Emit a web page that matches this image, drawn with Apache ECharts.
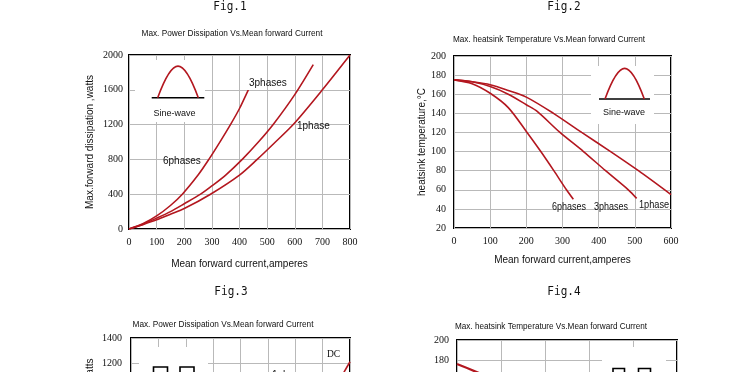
<!DOCTYPE html>
<html><head><meta charset="utf-8">
<script src="https://cdn.jsdelivr.net/npm/echarts/dist/echarts.min.js"></script>
<style>html,body{margin:0;padding:0;background:#fff}#c{width:750px;height:372px}</style>
</head><body><div id="c"></div>
<script>
// ---- Fig.1 : Max. power dissipation vs mean forward current (amperes, watts)
const fig1SteepX = [0, 50, 100, 150, 193, 250, 289, 330, 371, 400, 432];
const fig1SteepY = [0, 60, 150, 270, 400, 620, 800, 1005, 1220, 1385, 1600];
const fig1MidX = [0, 50, 100, 150, 200, 259, 300, 350, 410, 470, 524, 600, 667];
const fig1MidY = [0, 55, 125, 200, 290, 400, 495, 620, 800, 1005, 1210, 1545, 1890];
const fig1LowX = [0, 50, 100, 150, 200, 295, 400, 464, 530, 597, 700, 800];
const fig1LowY = [0, 50, 105, 170, 235, 400, 620, 800, 1000, 1210, 1600, 2000];
// ---- Fig.2 : Max. heatsink temperature vs mean forward current
const fig2Ph6X = [0, 50, 100, 150, 200, 240, 276, 311, 330];
const fig2Ph6Y = [175, 171, 161, 146, 121, 100, 80, 60, 50];
const fig2Ph3X = [0, 50, 100, 150, 200, 230, 293, 358, 419, 482, 505];
const fig2Ph3Y = [175, 173, 168, 160, 149, 142, 120, 100, 80, 60, 51];
const fig2Ph1X = [0, 50, 100, 150, 200, 275, 353, 433, 510, 600];
const fig2Ph1Y = [175, 173, 170, 164, 157, 140, 120, 100, 80, 55];
// ---- Fig.3 / Fig.4 (only the top is visible)
const fig3DcX = [750, 800];
const fig3DcY = [1020, 1210];
const fig4X = [0, 50, 100];
const fig4Y = [176, 167, 157];

const pairs = (xs, ys) => xs.map((x, i) => [x, ys[i]]);
const RED = '#b3171f', GRID = '#b9b9b9', INK = '#111';
const SERIF = 'Liberation Serif', SANS = 'Liberation Sans';

function xAx(g, max, name, gap, margin) {
  return { type: 'value', gridIndex: g, min: 0, max: max, interval: 100,
    axisLine: { show: false }, axisTick: { show: false },
    splitLine: { show: true, lineStyle: { color: GRID, width: 1 } },
    axisLabel: { fontFamily: SERIF, fontSize: 10, color: INK, margin: margin, formatter: v => String(v) },
    name: name, nameLocation: 'middle', nameGap: gap,
    nameTextStyle: { fontFamily: SANS, fontSize: 10, color: INK } };
}
function yAx(g, min, max, step, name, gap, margin) {
  return { type: 'value', gridIndex: g, min: min, max: max, interval: step,
    axisLine: { show: false }, axisTick: { show: false },
    splitLine: { show: true, lineStyle: { color: GRID, width: 1 } },
    axisLabel: { fontFamily: SERIF, fontSize: 10, color: INK, margin: margin, formatter: v => String(v) },
    name: name, nameLocation: 'middle', nameGap: gap,
    nameTextStyle: { fontFamily: SANS, fontSize: 10, color: INK } };
}
function line(g, data, w) {
  return { type: 'line', xAxisIndex: g, yAxisIndex: g, data: data, smooth: 0.3,
    showSymbol: false, lineStyle: { color: RED, width: w || 1.6 }, z: 3 };
}
const gridBox = (l, t, w, h) => ({ left: l, top: t, width: w, height: h, show: true,
  outerBoundsMode: 'none', containLabel: false,
  borderColor: '#000', borderWidth: 2, backgroundColor: 'transparent' });

function txt(x, y, s, font, size, align, sx) {
  const el = { type: 'text', x: x, y: y, z: 10, style: { text: s,
    font: size + 'px "' + font + '"', fill: INK, align: align || 'left', verticalAlign: 'middle' } };
  if (sx) { el.scaleX = sx; el.originX = 0; el.originY = 0; }
  return el;
}
function white(x, y, w, h) {
  return { type: 'rect', z: 1, shape: { x: x, y: y, width: w, height: h }, style: { fill: '#fff' } };
}
function sine(x0, x1, yb, yp, bx0, bx1) {
  const w = x1 - x0, h = yb - yp;
  return [
    { type: 'line', z: 5, shape: { x1: bx0, y1: yb, x2: bx1, y2: yb }, style: { stroke: '#000', lineWidth: 1.6 } },
    { type: 'bezierCurve', z: 5, shape: { x1: x0, y1: yb, x2: x1, y2: yb,
      cpx1: x0 + w * 0.38, cpy1: yb - h * 1.33, cpx2: x0 + w * 0.62, cpy2: yb - h * 1.33 },
      style: { stroke: RED, lineWidth: 1.6, fill: null } }
  ];
}
function sq(x, y, w) {
  return { type: 'rect', z: 5, shape: { x: x, y: y, width: w, height: 30 }, style: { stroke: '#000', lineWidth: 1.6, fill: null } };
}

const chart = echarts.init(document.getElementById('c'), null, { renderer: 'canvas' });
chart.setOption({
  animation: false,
  backgroundColor: '#fff',
  grid: [gridBox(129, 55, 221, 174), gridBox(454, 56, 217, 172), gridBox(131, 338, 219, 175), gridBox(457, 340, 220, 180)],
  xAxis: [
    xAx(0, 800, 'Mean forward current,amperes', 30, 8),
    xAx(1, 600, 'Mean forward current,amperes', 27, 8),
    xAx(2, 800, 'Mean forward current,amperes', 30, 8),
    xAx(3, 500, 'Mean forward current,amperes', 27, 8)
  ],
  yAxis: [
    yAx(0, 0, 2000, 400, 'Max.forward dissipation ,watts', 34, 6),
    yAx(1, 20, 200, 20, 'heatsink temperature,\u00B0C', 24, 8),
    yAx(2, 0, 1400, 200, 'Max.forward dissipation ,watts', 36, 9),
    yAx(3, 20, 200, 20, 'heatsink temperature,\u00B0C', 24, 8)
  ],
  series: [
    line(0, pairs(fig1SteepX, fig1SteepY)),
    line(0, pairs(fig1MidX, fig1MidY)),
    line(0, pairs(fig1LowX, fig1LowY)),
    line(1, pairs(fig2Ph6X, fig2Ph6Y)),
    line(1, pairs(fig2Ph3X, fig2Ph3Y)),
    line(1, pairs(fig2Ph1X, fig2Ph1Y)),
    line(2, pairs(fig3DcX, fig3DcY)),
    line(3, pairs(fig4X, fig4Y), 2.4)
  ],
  graphic: [].concat(
    [
      // figure captions
      txt(230, 7, 'Fig.1', 'DejaVu Sans Mono', 13, 'center', 0.85),
      txt(564, 7, 'Fig.2', 'DejaVu Sans Mono', 13, 'center', 0.85),
      txt(231, 292, 'Fig.3', 'DejaVu Sans Mono', 13, 'center', 0.85),
      txt(564, 292, 'Fig.4', 'DejaVu Sans Mono', 13, 'center', 0.85),
      // chart titles
      txt(232, 33.5, 'Max. Power Dissipation Vs.Mean forward Current', SANS, 9.5, 'center', 0.87),
      txt(549, 39, 'Max. heatsink Temperature Vs.Mean forward Current', SANS, 9.5, 'center', 0.86),
      txt(223, 324.5, 'Max. Power Dissipation Vs.Mean forward Current', SANS, 9.5, 'center', 0.87),
      txt(551, 326, 'Max. heatsink Temperature Vs.Mean forward Current', SANS, 9.5, 'center', 0.86),
      // inset backgrounds (hide grid lines)
      white(135, 60, 70, 62),
      white(591, 66, 63, 58),
      white(139, 347, 69, 40),
      white(602, 347, 64, 40),
      // curve labels
      txt(249, 83.5, '3phases', SANS, 10, 'left'),
      txt(297, 126, '1phase', SANS, 10, 'left'),
      txt(163, 161, '6phases', SANS, 10, 'left'),
      txt(174.5, 113.5, 'Sine-wave', SANS, 9, 'center'),
      txt(552, 207.5, '6phases', SANS, 10, 'left', 0.9),
      txt(594, 207.5, '3phases', SANS, 10, 'left', 0.9),
      txt(639, 205.5, '1phase', SANS, 10, 'left', 0.92),
      txt(624, 112.5, 'Sine-wave', SANS, 9, 'center'),
      txt(333.5, 354, 'DC', SERIF, 9.5, 'center'),
      txt(272, 375, '1phase', SANS, 10, 'left'),
      sq(153.5, 367, 14), sq(180, 367, 14),
      sq(613, 368.5, 11.5), sq(638.5, 368.5, 12)
    ],
    sine(157.7, 198.3, 97.7, 66, 151.7, 204.3),
    sine(605, 644.3, 99, 68.3, 599, 650)
  )
});
</script></body></html>
